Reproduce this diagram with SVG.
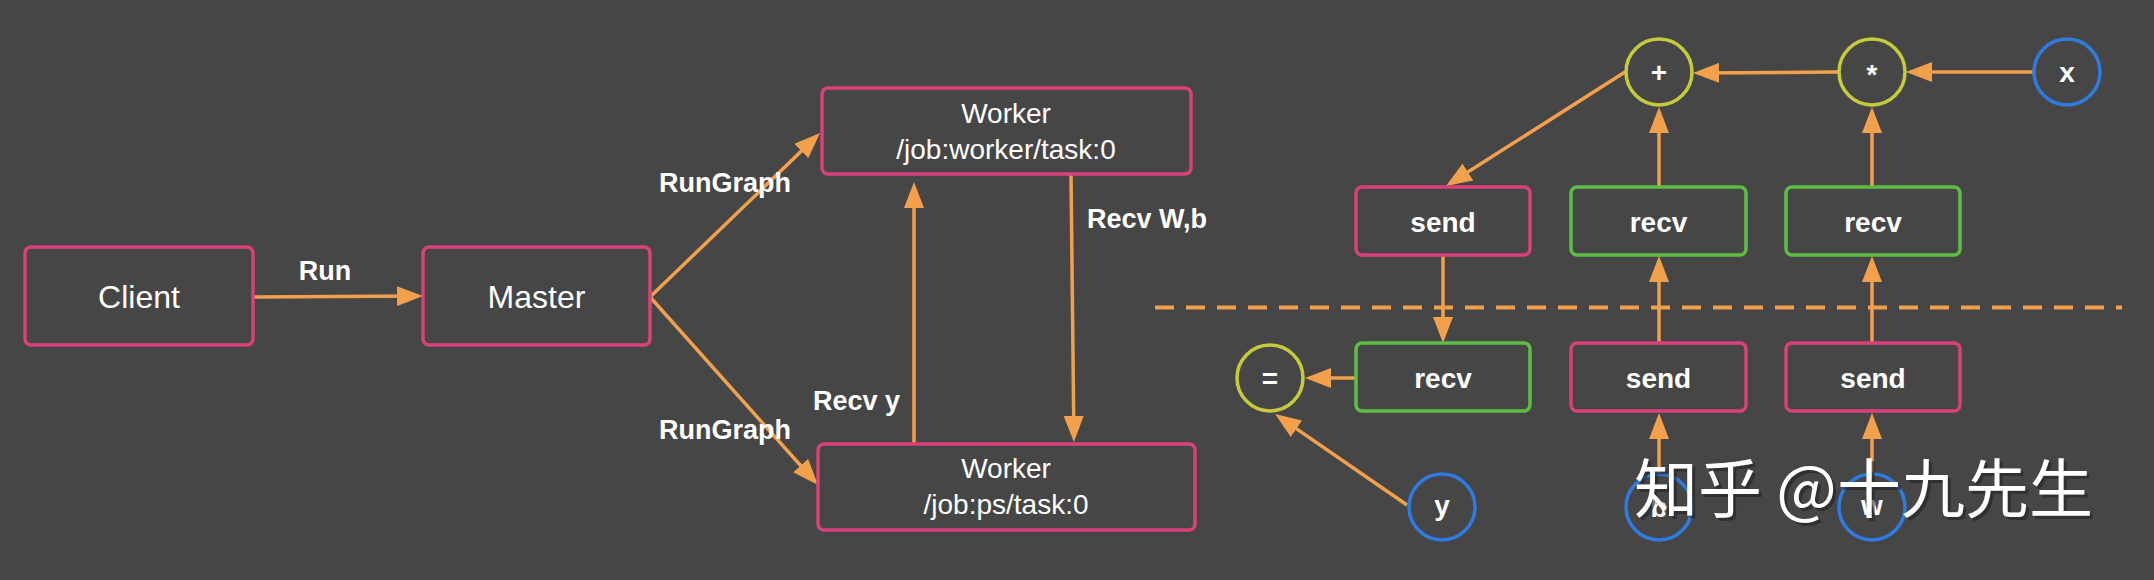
<svg xmlns="http://www.w3.org/2000/svg" width="2154" height="580" viewBox="0 0 2154 580">
<defs>
<marker id="ah" markerUnits="userSpaceOnUse" markerWidth="26" markerHeight="20" refX="20" refY="10" orient="auto">
<path d="M0,0 L26,10 L0,20 z" fill="#F2A04C"/>
</marker>
<style>
.box{fill:none;stroke:#DA407B;stroke-width:3.5}
.gbox{fill:none;stroke:#5DBE43;stroke-width:3.5}
.op{fill:none;stroke:#C6CB3C;stroke-width:3.5}
.var{fill:none;stroke:#2E7BE3;stroke-width:3.5}
.t{font-family:"Liberation Sans",Arial,sans-serif;fill:#FFFFFF;text-anchor:middle}
.big{font-size:32px}
.mid{font-size:28px}
.lbl{font-family:"Liberation Sans",Arial,sans-serif;fill:#FFFFFF;font-size:27px;font-weight:bold}
.sm{font-size:28px;font-weight:bold}
.e{fill:none;stroke:#F2A04C;stroke-width:3.5;marker-end:url(#ah)}
.wm{font-family:"Noto Sans CJK SC","Noto Sans",sans-serif;font-size:64px}
</style>
</defs>
<rect x="0" y="0" width="2154" height="580" fill="#464646"/>

<g id="connectors">
<line class="e" x1="253" y1="297" x2="417" y2="296"/>
<line class="e" x1="650" y1="297" x2="815.7" y2="137.2"/>
<line class="e" x1="650" y1="297" x2="814" y2="480.5"/>
<line class="e" x1="914" y1="444" x2="914" y2="188"/>
<line class="e" x1="1071" y1="174" x2="1073.9" y2="436"/>
<line class="e" x1="2033" y1="72" x2="1912" y2="72"/>
<line class="e" x1="1838" y1="72" x2="1699" y2="73"/>
<line class="e" x1="1625" y1="72" x2="1451" y2="182.8"/>
<line class="e" x1="1659" y1="187" x2="1659" y2="113"/>
<line class="e" x1="1872" y1="187" x2="1872" y2="113"/>
<line class="e" x1="1443" y1="255" x2="1443" y2="337"/>
<line class="e" x1="1659" y1="343" x2="1659" y2="262"/>
<line class="e" x1="1872" y1="343" x2="1872" y2="262"/>
<line class="e" x1="1356" y1="378" x2="1311" y2="378"/>
<line class="e" x1="1407" y1="505" x2="1280" y2="417.4"/>
<line class="e" x1="1659" y1="473" x2="1659" y2="419"/>
<line class="e" x1="1872" y1="473" x2="1872" y2="419"/>
<line x1="1155" y1="307.5" x2="2122" y2="307.5" stroke="#F2A04C" stroke-width="4" stroke-dasharray="19 12"/>
</g>

<g id="labels">
<text class="lbl" x="325" y="280" text-anchor="middle">Run</text>
<text class="lbl" x="659" y="192">RunGraph</text>
<text class="lbl" x="659" y="439">RunGraph</text>
<text class="lbl" x="813" y="410">Recv y</text>
<text class="lbl" x="1087" y="228">Recv W,b</text>
</g>

<g id="client">
<rect class="box" x="25" y="247" width="228" height="98" rx="6"/>
<text class="t big" x="139" y="308">Client</text>
</g>
<g id="master">
<rect class="box" x="423" y="247" width="227" height="98" rx="6"/>
<text class="t big" x="536.5" y="308">Master</text>
</g>
<g id="worker-top">
<rect class="box" x="822" y="88" width="369" height="86" rx="6"/>
<text class="t mid" x="1006" y="123">Worker</text>
<text class="t mid" x="1006" y="159">/job:worker/task:0</text>
</g>
<g id="worker-ps">
<rect class="box" x="818" y="444" width="377" height="86" rx="6"/>
<text class="t mid" x="1006" y="478">Worker</text>
<text class="t mid" x="1006" y="514">/job:ps/task:0</text>
</g>

<g id="op-plus">
<circle class="op" cx="1659" cy="72" r="33"/>
<text class="t sm" x="1659" y="82">+</text>
</g>
<g id="op-mul">
<circle class="op" cx="1872" cy="72" r="33"/>
<text class="t sm" x="1872" y="84">*</text>
</g>
<g id="var-x">
<circle class="var" cx="2067" cy="72" r="33"/>
<text class="t sm" x="2067" y="82">x</text>
</g>
<g id="send-top">
<rect class="box" x="1356" y="187" width="174" height="68" rx="6"/>
<text class="t sm" x="1443" y="232">send</text>
</g>
<g id="recv-top-1">
<rect class="gbox" x="1571" y="187" width="175" height="68" rx="6"/>
<text class="t sm" x="1658.5" y="232">recv</text>
</g>
<g id="recv-top-2">
<rect class="gbox" x="1786" y="187" width="174" height="68" rx="6"/>
<text class="t sm" x="1873" y="232">recv</text>
</g>
<g id="op-eq">
<circle class="op" cx="1270" cy="378" r="33"/>
<text class="t sm" x="1270" y="388">=</text>
</g>
<g id="recv-bottom">
<rect class="gbox" x="1356" y="343" width="174" height="68" rx="6"/>
<text class="t sm" x="1443" y="388">recv</text>
</g>
<g id="send-bottom-1">
<rect class="box" x="1571" y="343" width="175" height="68" rx="6"/>
<text class="t sm" x="1658.5" y="388">send</text>
</g>
<g id="send-bottom-2">
<rect class="box" x="1786" y="343" width="174" height="68" rx="6"/>
<text class="t sm" x="1873" y="388">send</text>
</g>
<g id="var-y">
<circle class="var" cx="1442" cy="507" r="33"/>
<text class="t sm" x="1442" y="515">y</text>
</g>
<g id="var-b">
<circle class="var" cx="1659" cy="507" r="33"/>
<text class="t sm" x="1659" y="517">b</text>
</g>
<g id="var-w">
<circle class="var" cx="1872" cy="507" r="33"/>
<text class="t sm" x="1872" y="515">w</text>
</g>

<g id="watermark">
<text class="wm" x="1637" y="515" fill="#222222" fill-opacity="0.6">知乎 @十九先生</text>
<text class="wm" x="1634" y="512" fill="#FFFFFF">知乎 @十九先生</text>
</g>
</svg>
